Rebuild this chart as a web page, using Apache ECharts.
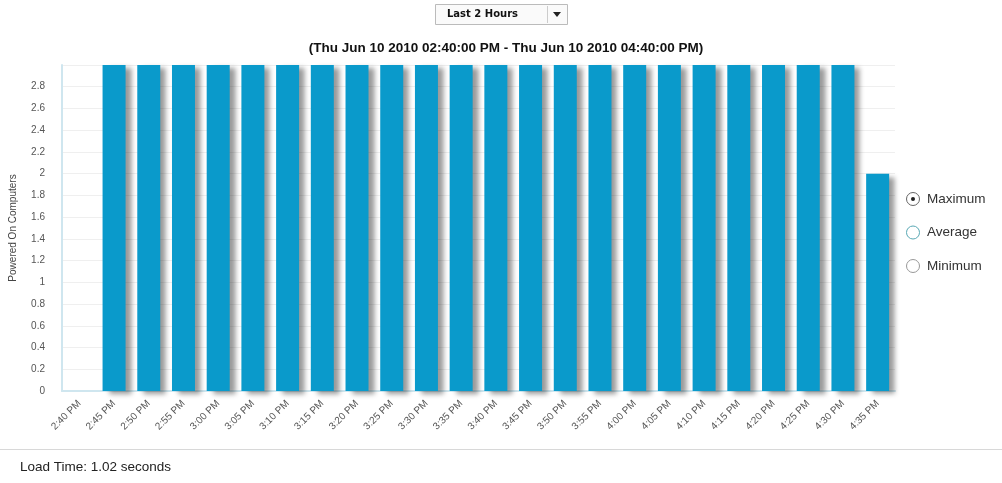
<!DOCTYPE html>
<html>
<head>
<meta charset="utf-8">
<script src="https://cdn.jsdelivr.net/npm/echarts@6/dist/echarts.min.js"></script>
<style>
  html, body { margin: 0; padding: 0; background: #fff; }
  #chart { width: 1002px; height: 483px; }
</style>
</head>
<body>
<div id="chart"></div>
<script>
// Five-minute sampling slots over the two-hour window
const categories = [
  '2:40 PM', '2:45 PM', '2:50 PM', '2:55 PM', '3:00 PM', '3:05 PM', '3:10 PM', '3:15 PM',
  '3:20 PM', '3:25 PM', '3:30 PM', '3:35 PM', '3:40 PM', '3:45 PM', '3:50 PM', '3:55 PM',
  '4:00 PM', '4:05 PM', '4:10 PM', '4:15 PM', '4:20 PM', '4:25 PM', '4:30 PM', '4:35 PM'
];
// Maximum number of powered-on computers per slot
const maximumValues = [
  0, 3, 3, 3, 3, 3, 3, 3,
  3, 3, 3, 3, 3, 3, 3, 3,
  3, 3, 3, 3, 3, 3, 3, 2
];
const rangeTitle = '(Thu Jun 10 2010 02:40:00 PM - Thu Jun 10 2010 04:40:00 PM)';
const periodLabel = 'Last 2 Hours';
const legendItems = ['Maximum', 'Average', 'Minimum'];
const loadTimeText = 'Load Time: 1.02 seconds';

const FONT = '"Liberation Sans", Arial, sans-serif';
const chart = echarts.init(document.getElementById('chart'), null, { renderer: 'canvas' });

// Radio-style selector shown beside the plot
const radioGraphics = [];
const radioColors = ['#666', '#5aa9b5', '#999'];
legendItems.forEach((name, i) => {
  const cy = 199 + i * 33.5;
  radioGraphics.push({
    type: 'circle', shape: { cx: 913, cy: cy, r: 6.5 },
    style: { fill: '#fff', stroke: radioColors[i], lineWidth: 1 }
  });
  if (i === 0) {
    radioGraphics.push({
      type: 'circle', shape: { cx: 913, cy: cy, r: 2 },
      style: { fill: '#222' }
    });
  }
  radioGraphics.push({
    type: 'text', x: 927, y: cy,
    style: { text: name, fill: '#333', font: '13.5px ' + FONT, textVerticalAlign: 'middle' }
  });
});

chart.setOption({
  animation: false,
  backgroundColor: '#fff',
  title: {
    text: rangeTitle,
    left: 501, top: 36, textAlign: 'center',
    textStyle: { fontFamily: FONT, fontSize: 13.5, fontWeight: 'bold', color: '#111' }
  },
  grid: { left: 60, right: 107, top: 65, bottom: 92 },
  xAxis: {
    type: 'category',
    data: categories,
    axisLine: { lineStyle: { color: '#cfe6ef', width: 2 } },
    axisTick: { show: false },
    axisLabel: { rotate: 45, interval: 0, fontSize: 10, color: '#555', fontFamily: FONT, margin: 11 }
  },
  yAxis: {
    type: 'value',
    min: 0, max: 3, interval: 0.2,
    name: 'Powered On Computers',
    nameLocation: 'middle',
    nameGap: 44,
    nameTextStyle: { fontSize: 10, color: '#444', fontFamily: FONT },
    axisLine: { show: true, lineStyle: { color: '#cfe6ef', width: 2 } },
    axisTick: { show: false },
    splitLine: { lineStyle: { color: '#efefef' } },
    axisLabel: {
      fontSize: 10, color: '#555', fontFamily: FONT, margin: 17,
      formatter: v => (Math.abs(v - 3) < 1e-9 ? '' : String(Math.round(v * 10) / 10))
    }
  },
  series: [{
    type: 'bar',
    name: legendItems[0],
    data: maximumValues,
    barWidth: 23,
    itemStyle: {
      color: '#0a9acb',
      shadowColor: 'rgba(0,0,0,0.4)',
      shadowBlur: 5,
      shadowOffsetX: 6,
      shadowOffsetY: 3
    }
  }],
  graphic: [
    // Period drop-down
    {
      type: 'rect', shape: { x: 435.5, y: 4.5, width: 132, height: 20 },
      style: { fill: '#fafafa', stroke: '#bbb', lineWidth: 1 }
    },
    {
      type: 'line', shape: { x1: 547.5, y1: 6, x2: 547.5, y2: 23 },
      style: { stroke: '#ccc', lineWidth: 1 }
    },
    {
      type: 'text', x: 447, y: 14.5,
      style: { text: periodLabel, fill: '#111', font: 'bold 10px "DejaVu Sans", sans-serif', textVerticalAlign: 'middle' }
    },
    {
      type: 'polygon', shape: { points: [[553, 12], [561, 12], [557, 17]] },
      style: { fill: '#222' }
    },
    ...radioGraphics,
    // Footer
    {
      type: 'line', shape: { x1: 0, y1: 449.5, x2: 1002, y2: 449.5 },
      style: { stroke: '#d8d8d8', lineWidth: 1 }
    },
    {
      type: 'text', x: 20, y: 467,
      style: { text: loadTimeText, fill: '#222', font: '13.5px ' + FONT, textVerticalAlign: 'middle' }
    }
  ]
});
</script>
</body>
</html>
